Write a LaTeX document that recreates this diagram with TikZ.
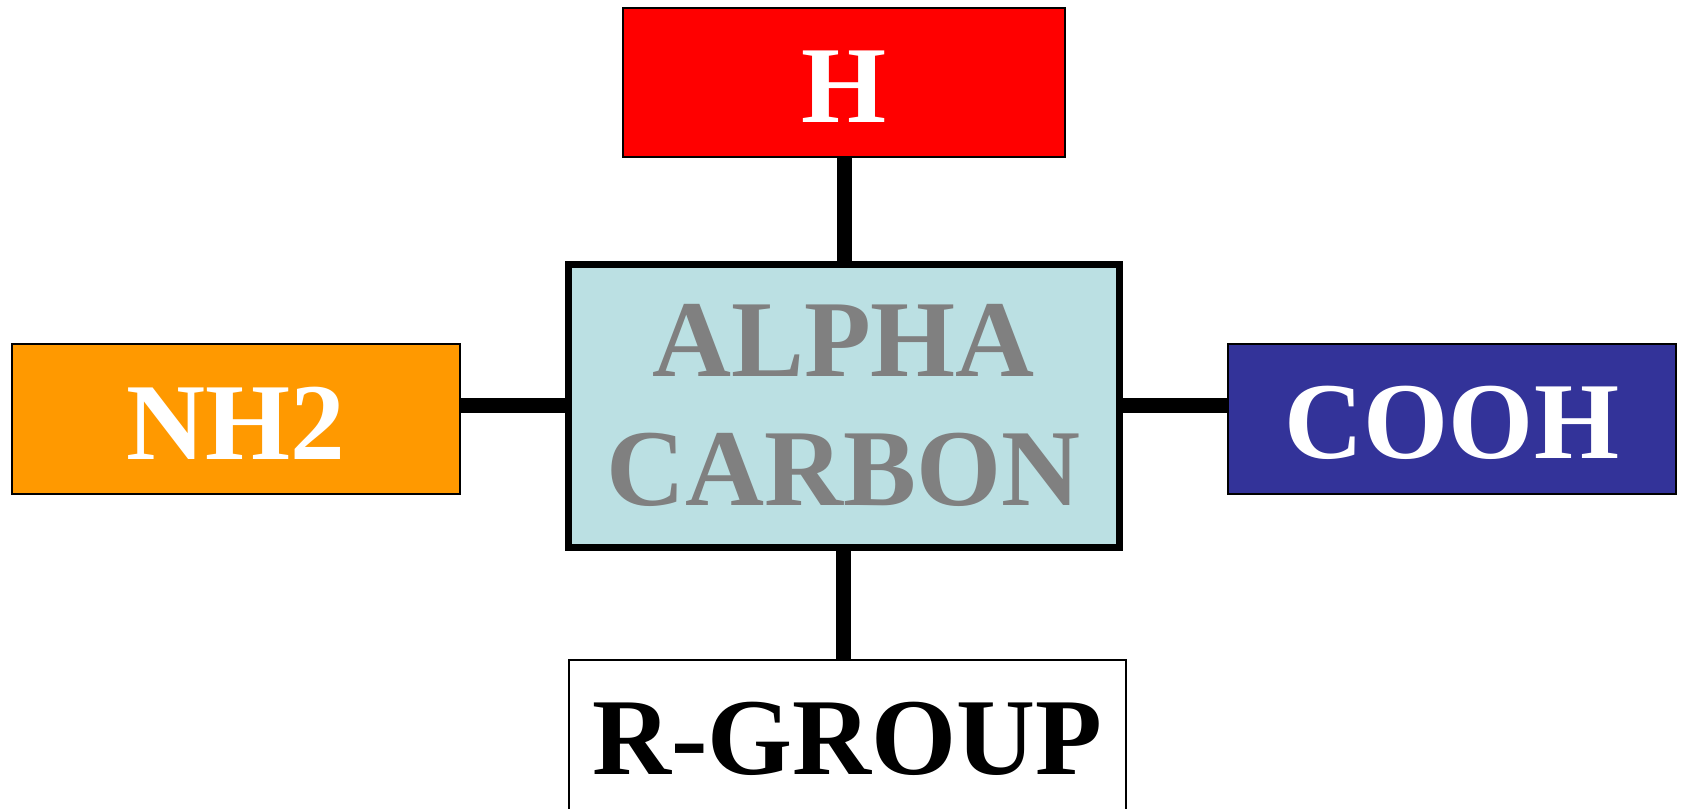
\documentclass[tikz,border=0pt]{standalone}
\usepackage{fontspec}
\setmainfont{Liberation Serif}

\definecolor{hydrored}{RGB}{255,0,0}
\definecolor{aminoorange}{RGB}{255,153,0}
\definecolor{carboxylblue}{RGB}{51,51,153}
\definecolor{carbonfill}{RGB}{187,224,227}
\definecolor{carbongray}{RGB}{128,128,128}

\tikzset{
  box/.style={draw=black, line width=0.9pt, inner sep=0pt,
    minimum width=336pt, minimum height=112.5pt,
    font=\fontsize{82}{97}\selectfont\bfseries},
  group/.style={box, text height=60pt},
  bond/.style={line width=11.25pt}
}

\begin{document}
\begin{tikzpicture}[x=0.75pt, y=-0.75pt]
    \useasboundingbox (0, 0) rectangle (1681, 808);
    \fill [white] (0, 0) rectangle (1681, 808);

    \node [group, fill=hydrored, text=white, minimum width=331.5pt, minimum height=111.75pt] (h) at (844, 82.5) {H};
    \node [box, fill=carbonfill, text=carbongray, line width=5.25pt, minimum width=413.25pt, minimum height=212.25pt, align=center] (alpha) at (843.5, 405.5) {ALPHA\\CARBON};
    \node [group, fill=aminoorange, text=white] (amino) at (236, 419) {NH2};
    \node [group, fill=carboxylblue, text=white] (carboxyl) at (1452, 419) {COOH};
    \node [group, fill=white, text=black, minimum width=417.75pt] (rgroup) at (847.5, 735) {R-GROUP};

    \draw [bond] (h.south) -- (h.south |- alpha.north);
    \draw [bond] (alpha.south) -- (alpha.south |- rgroup.north);
    \draw [bond] (alpha.west) -- (alpha.west -| amino.east);
    \draw [bond] (alpha.east) -- (alpha.east -| carboxyl.west);
  \end{tikzpicture}
\end{document}
